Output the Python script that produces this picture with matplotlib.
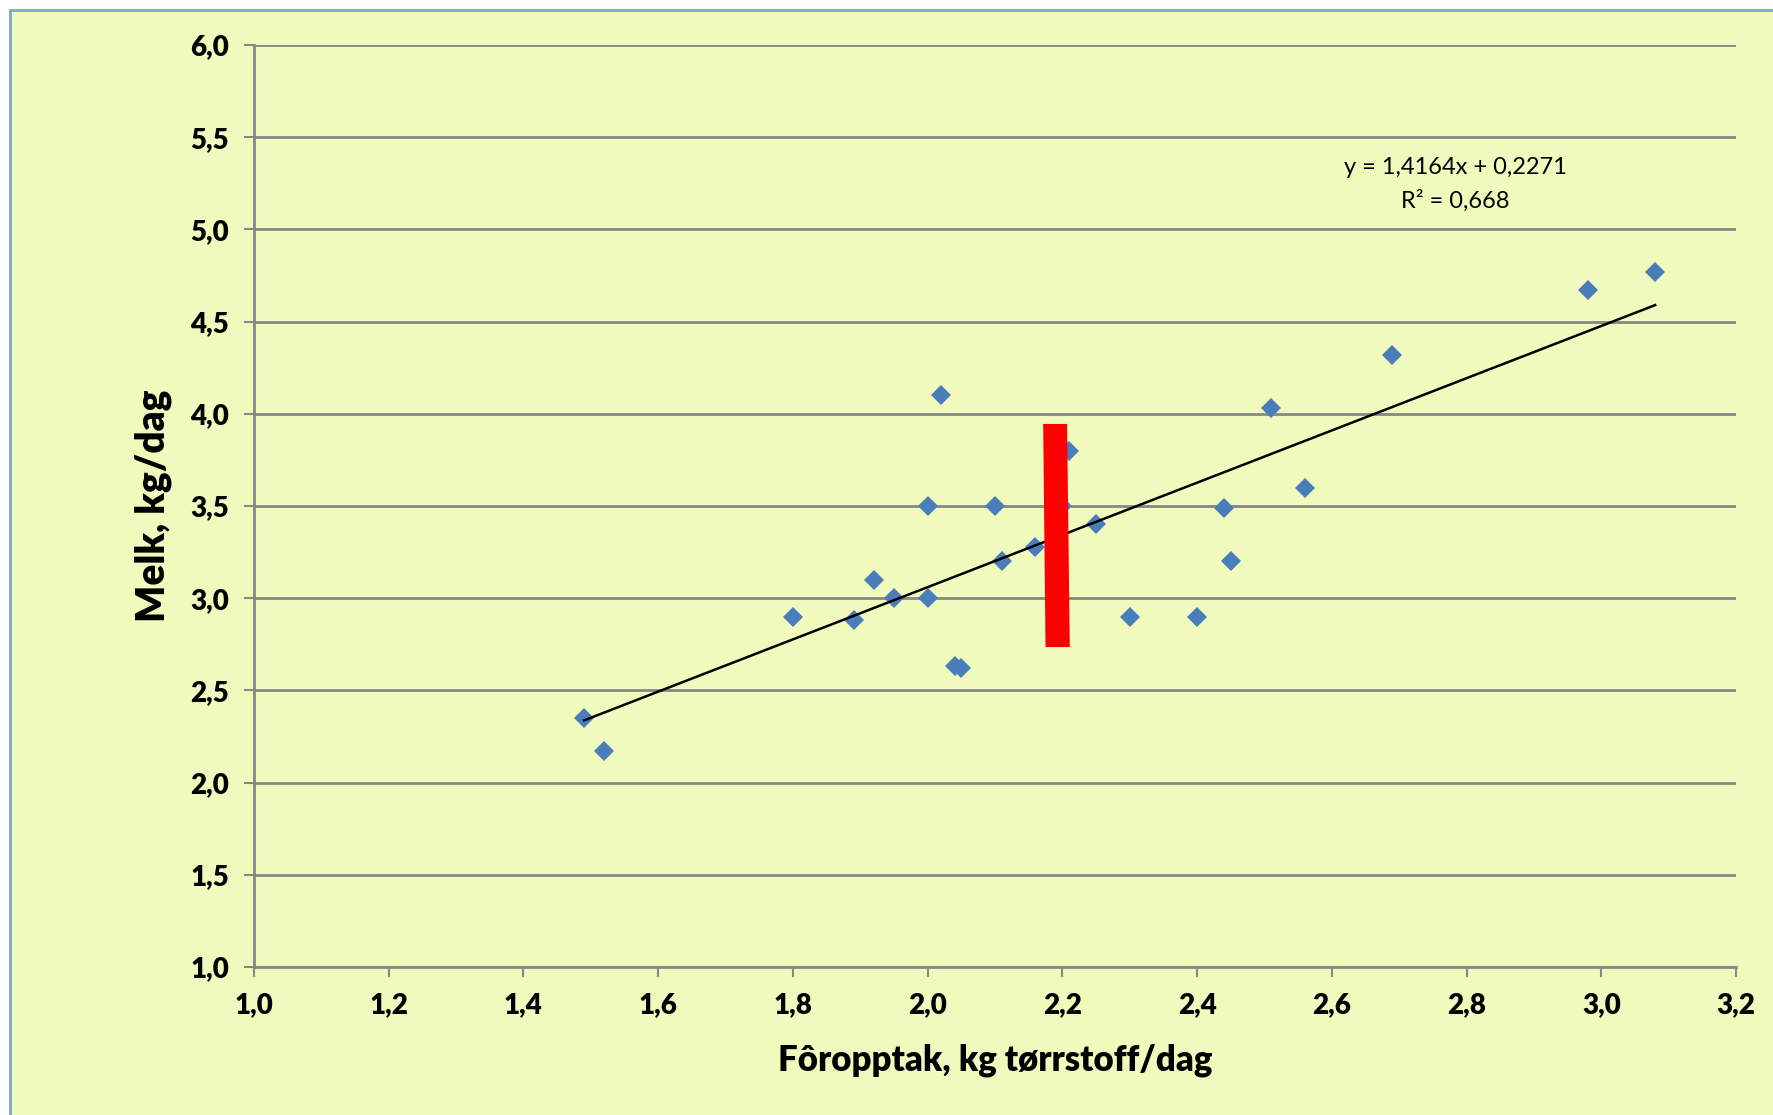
import matplotlib
matplotlib.use("Agg")
import matplotlib.pyplot as plt
from matplotlib.patches import Rectangle, Polygon
from matplotlib.ticker import FuncFormatter, MultipleLocator
import numpy as np

# Data
intake = [1.49, 1.52, 1.80, 1.89, 1.92, 1.95, 2.00, 2.00, 2.02, 2.04, 2.05,
          2.10, 2.11, 2.16, 2.21, 2.20, 2.25, 2.30, 2.40, 2.44, 2.45, 2.51,
          2.56, 2.69, 2.98, 3.08]
milk = [2.35, 2.17, 2.90, 2.88, 3.10, 3.00, 3.50, 3.00, 4.10, 2.63, 2.62,
        3.50, 3.20, 3.28, 3.80, 3.50, 3.40, 2.90, 2.90, 3.49, 3.20, 4.03,
        3.60, 4.32, 4.67, 4.77]
slope = 1.4164
intercept = 0.2271
r2_text = "R² = 0,668"
eq_text = "y = 1,4164x + 0,2271"
xlabel = "Fôropptak, kg tørrstoff/dag"
ylabel = "Melk, kg/dag"
# red marker bar (annotation shape) corners in data units
bar_x = [2.1715, 2.207, 2.211, 2.175]
bar_y = [3.945, 3.945, 2.735, 2.735]

BG = "#F1FABD"
BLUE = "#4A7EBB"
GRID = "#878787"

fig = plt.figure(figsize=(17.73, 11.15), dpi=100)
fig.patch.set_facecolor("white")
frame = Rectangle((10 / 1773, -0.05), 1.2, 1 - 10 / 1115 + 0.05,
                  transform=fig.transFigure, facecolor=BG,
                  edgecolor="#7FA3D6", linewidth=2, zorder=-10)
fig.patches.append(frame)

ax = fig.add_axes([254 / 1773, 1 - 967 / 1115, (1736 - 254) / 1773, (967 - 45) / 1115])
ax.set_facecolor(BG)
ax.patch.set_alpha(0)
ax.set_xlim(1.0, 3.2)
ax.set_ylim(1.0, 6.0)
ax.xaxis.set_major_locator(MultipleLocator(0.2))
ax.yaxis.set_major_locator(MultipleLocator(0.5))
fmt = FuncFormatter(lambda v, p: f"{v:.1f}".replace(".", ","))
ax.xaxis.set_major_formatter(fmt)
ax.yaxis.set_major_formatter(fmt)

ax.yaxis.grid(True, color=GRID, linewidth=2)
ax.set_axisbelow(True)
for s in ["top", "right"]:
    ax.spines[s].set_visible(False)
for s in ["left", "bottom"]:
    ax.spines[s].set_color(GRID)
    ax.spines[s].set_linewidth(2)
ax.tick_params(axis="both", direction="out", length=7, width=1.5, color=GRID,
               labelsize=20, pad=11)
for lab in ax.get_xticklabels() + ax.get_yticklabels():
    lab.set_fontfamily("Lato")
    lab.set_fontweight("heavy")

ax.plot(intake, milk, linestyle="none", marker="D", markersize=10.5,
        color=BLUE, markeredgewidth=0, zorder=3)

xs = np.array([min(intake), max(intake)])
ax.plot(xs, slope * xs + intercept, color="black", linewidth=1.8, zorder=4)

ax.add_patch(Polygon(list(zip(bar_x, bar_y)), closed=True, facecolor="#FF0000",
                     edgecolor="none", zorder=5))

ax.text(2.783, 5.337, eq_text, ha="center", va="center", fontsize=17,
        family="Lato")
ax.text(2.783, 5.153, r2_text, ha="center", va="center", fontsize=17,
        family="Lato")

fig.text(995 / 1773, 1 - 1060 / 1115, xlabel, ha="center", va="center",
         fontsize=25, fontweight="heavy", family="Lato")
fig.text(153 / 1773, 1 - 506 / 1115, ylabel, ha="center", va="center",
         fontsize=28, fontweight="heavy", family="Lato", rotation=90)

fig.savefig("out.png", dpi=100, facecolor=fig.get_facecolor())
